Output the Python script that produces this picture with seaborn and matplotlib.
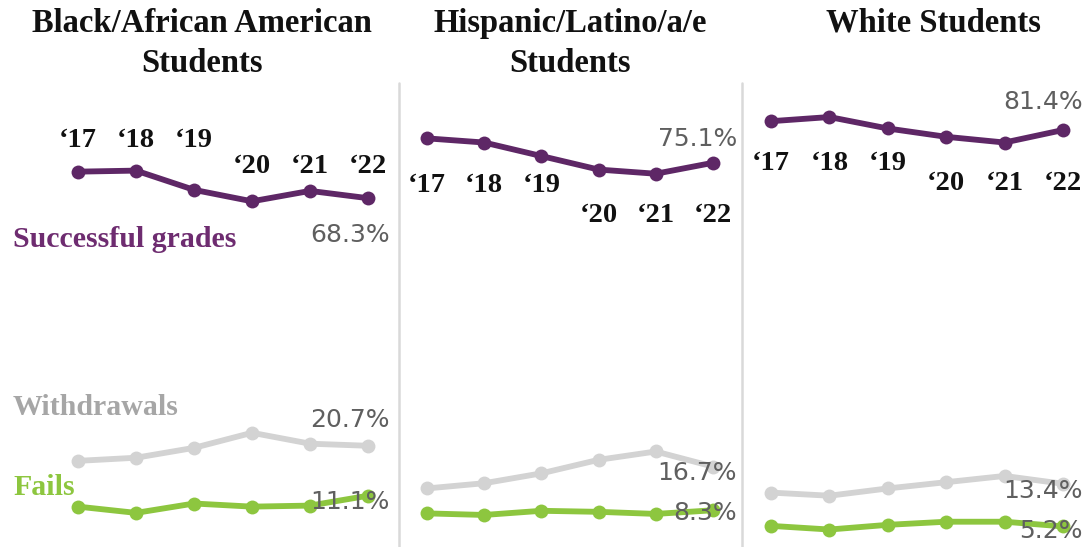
import numpy as np
import pandas as pd
import matplotlib
matplotlib.use("Agg")
import matplotlib.pyplot as plt
import matplotlib.transforms as mtransforms
from matplotlib.lines import Line2D
import seaborn as sns

# ---------------- data ----------------
years = ["\u201817", "\u201818", "\u201819", "\u201820", "\u201821", "\u201822"]
groups = ["Black/African American\nStudents", "Hispanic/Latino/a/e\nStudents", "White Students"]
series_names = ["Successful grades", "Withdrawals", "Fails"]

black_success = [73.4, 73.6, 69.9, 67.7, 69.7, 68.3]
black_withdraw = [17.8, 18.4, 20.3, 23.2, 21.1, 20.7]
black_fail = [9.0, 7.8, 9.6, 9.0, 9.2, 11.1]

hispanic_success = [79.8, 79.0, 76.4, 73.8, 73.0, 75.1]
hispanic_withdraw = [12.5, 13.5, 15.4, 18.0, 19.6, 16.7]
hispanic_fail = [7.7, 7.4, 8.2, 8.0, 7.6, 8.3]

white_success = [83.1, 83.9, 81.7, 80.1, 79.0, 81.4]
white_withdraw = [11.7, 11.1, 12.5, 13.7, 14.9, 13.4]
white_fail = [5.3, 4.6, 5.5, 6.1, 6.1, 5.2]

# ---------------- style ----------------
W, H = 1091, 547
DPI = 100
sns.set_style("white")
plt.rcParams["font.family"] = ["DejaVu Sans"]

line_colors = {"Successful grades": "#5e2766", "Withdrawals": "#d3d3d3", "Fails": "#8dc63f"}
label_colors = {"Successful grades": "#6e2c70", "Withdrawals": "#a6a6a6", "Fails": "#8dc63f"}
serif = "Liberation Serif"

fig = plt.figure(figsize=(W / DPI, H / DPI), dpi=DPI)

# axes placement in pixels (left, width) and x limits
panel_px = [(0, 397), (397, 344), (741, 350)]
panel_xlim = [(-1.345, 5.5), (-0.524, 5.49), (-0.514, 5.48)]
ylim = (1.24, 106.4)

# year-label rows (baseline pixel y) for first three / last three years
year_rows = [(147, 173), (192, 222), (170, 190)]
# end-value label offsets (dx, dy) in pixels for success / withdraw / fail
end_offsets = [
    [(22, -44), (22, 19), (22, -13)],
    [(24, 17), (24, -13), (24, -10)],
    [(20, 21), (20, -14), (20, -12)],
]
title_centers = [202, 570, 933]

data = [
    (black_success, black_withdraw, black_fail),
    (hispanic_success, hispanic_withdraw, hispanic_fail),
    (white_success, white_withdraw, white_fail),
]

for p in range(3):
    left, width = panel_px[p]
    ax = fig.add_axes([left / W, 0, width / W, 1])
    rows = []
    for name, vals in zip(series_names, data[p]):
        for i, v in enumerate(vals):
            rows.append({"idx": i, "year": years[i], "value": v, "series": name})
    df = pd.DataFrame(rows)
    for name, z in [("Withdrawals", 2), ("Fails", 3), ("Successful grades", 4)]:
        sub = df[df["series"] == name]
        sns.lineplot(data=sub, x="idx", y="value", ax=ax, color=line_colors[name],
                     linewidth=4.2, marker="o", markersize=10, markeredgewidth=0,
                     zorder=z, legend=False)
    ax.set_xlim(*panel_xlim[p])
    ax.set_ylim(*ylim)
    ax.set_axis_off()

    # year labels
    trans = mtransforms.blended_transform_factory(ax.transData, ax.transAxes)
    for i, yl in enumerate(years):
        ypx = year_rows[p][0] if i < 3 else year_rows[p][1]
        ax.text(i, 1 - ypx / H, yl, transform=trans, ha="center", va="baseline",
                fontsize=20.5, fontweight="bold", family=serif, color="#111111", zorder=6)

    # end values
    for s, vals in enumerate(data[p]):
        dx, dy = end_offsets[p][s]
        ax.annotate(f"{vals[-1]:.1f}%", xy=(len(vals) - 1, vals[-1]), xytext=(dx, dy),
                    textcoords="offset pixels", ha="right", va="baseline",
                    fontsize=18, color="#5f5f5f", zorder=7)

    # titles
    for li, line in enumerate(groups[p].split("\n")):
        fig.text(title_centers[p] / W, 1 - (32 + 40 * li) / H, line, ha="center",
                 va="baseline", fontsize=23.5, fontweight="bold", family=serif, color="#111111")

    if p == 0:
        for name, ypx in [("Successful grades", 247), ("Withdrawals", 415), ("Fails", 495)]:
            ax.text(13 / width, 1 - ypx / H, name, transform=ax.transAxes, ha="left",
                    va="baseline", fontsize=21.5, fontweight="bold", family=serif,
                    color=label_colors[name], zorder=5)

# separators
for xpx in [399, 742]:
    fig.add_artist(Line2D([xpx / W, xpx / W], [0, 1 - 83 / H], transform=fig.transFigure,
                          color="#d9d9d9", linewidth=1.8))

fig.savefig("out.png", dpi=DPI, facecolor="white")
